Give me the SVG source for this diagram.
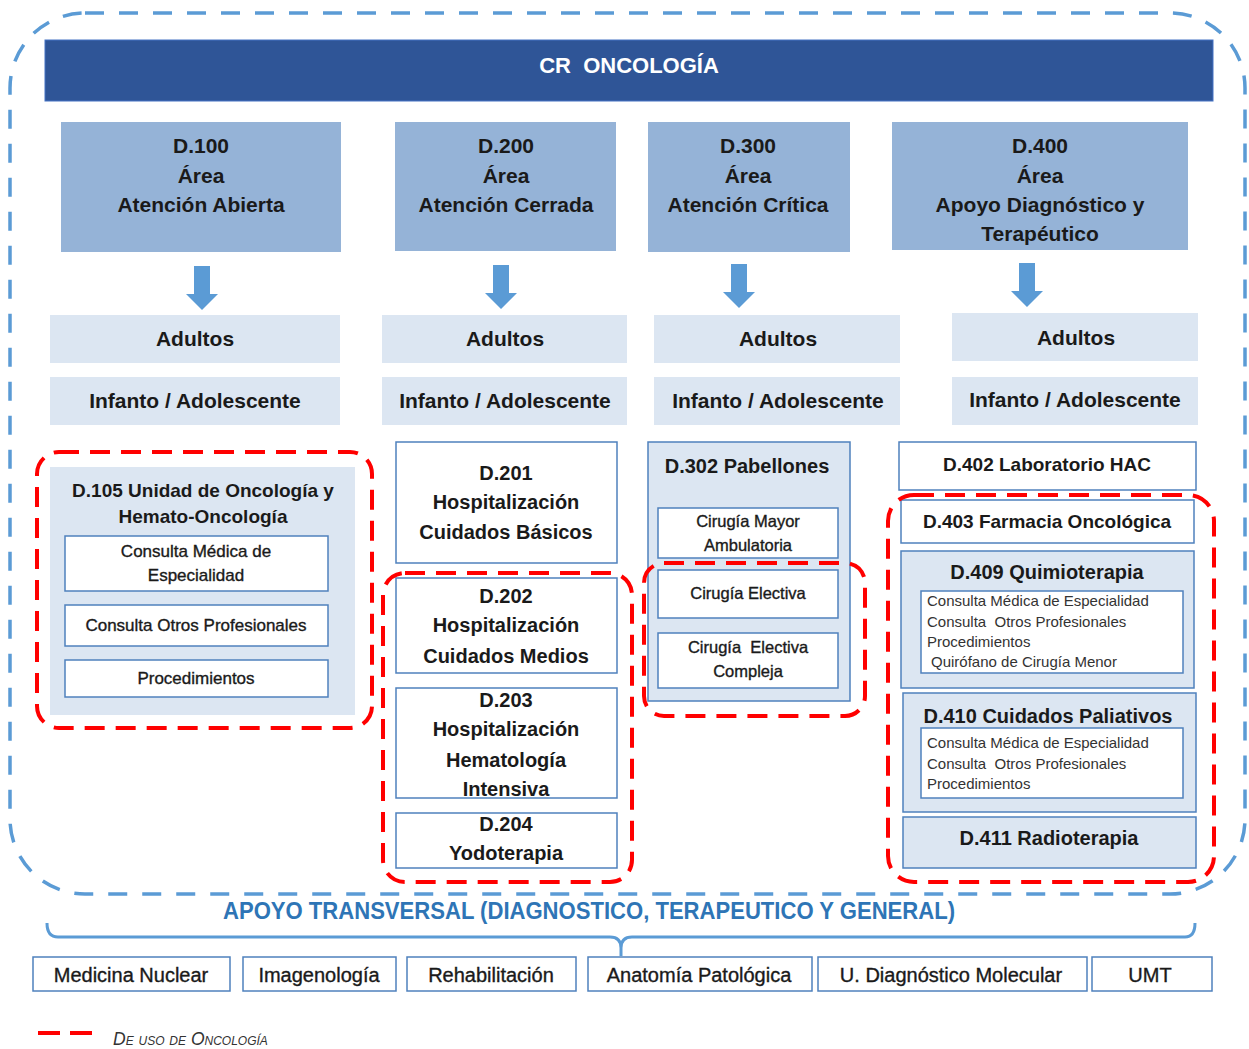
<svg xmlns="http://www.w3.org/2000/svg" width="1249" height="1049" viewBox="0 0 1249 1049">
<defs>
<style>
.t{font-family:"Liberation Sans",Arial,sans-serif;fill:#1a1a1a;text-anchor:middle}
.b{font-weight:bold}
.m{stroke:#1a1a1a;stroke-width:0.35}
.hdr{fill:#95B3D7}
.lt{fill:#DCE6F2}
.wb{fill:#ffffff;stroke:#4F81BD;stroke-width:1.5}
.lb{fill:#DCE6F2;stroke:#4F81BD;stroke-width:1.5}
.red{fill:none;stroke:#FF0000;stroke-width:4;stroke-dasharray:20 11}
.arr{fill:#5B9BD5}
.s15{font-size:15px;text-anchor:start;fill:#333}
</style>
</defs>
<rect width="1249" height="1049" fill="#ffffff"/>

<g id="outer-frame">
<rect x="10" y="13" width="1235" height="881" rx="75" ry="75" fill="none" stroke="#5B9BD5" stroke-width="3.5" stroke-dasharray="19 15"/>
</g>

<g id="cr-oncologia">
<rect x="45" y="40" width="1168" height="61" fill="#2F5597" stroke="#4472C4" stroke-width="1"/>
<text class="t b" x="629" y="73" font-size="22" style="fill:#ffffff" xml:space="preserve">CR  ONCOLOGÍA</text>
</g>

<g id="d100">
<rect class="hdr" x="61" y="122" width="280" height="130"/>
<text class="t b" font-size="21"><tspan x="201" y="153">D.100</tspan><tspan x="201" y="183">Área</tspan><tspan x="201" y="212">Atención Abierta</tspan></text>
</g>
<g id="d200">
<rect class="hdr" x="395" y="122" width="221" height="129"/>
<text class="t b" font-size="21"><tspan x="506" y="153">D.200</tspan><tspan x="506" y="183">Área</tspan><tspan x="506" y="212">Atención Cerrada</tspan></text>
</g>
<g id="d300">
<rect class="hdr" x="648" y="122" width="202" height="130"/>
<text class="t b" font-size="21"><tspan x="748" y="153">D.300</tspan><tspan x="748" y="183">Área</tspan><tspan x="748" y="212">Atención Crítica</tspan></text>
</g>
<g id="d400">
<rect class="hdr" x="892" y="122" width="296" height="128"/>
<text class="t b" font-size="21"><tspan x="1040" y="153">D.400</tspan><tspan x="1040" y="183">Área</tspan><tspan x="1040" y="212">Apoyo Diagnóstico y</tspan><tspan x="1040" y="241">Terapéutico</tspan></text>
</g>

<g id="connectors">
<path class="arr" d="M194 266 H210 V294 H218 L202 310 L186 294 H194 Z"/>
<path class="arr" d="M493 265 H509 V293 H517 L501 309 L485 293 H493 Z"/>
<path class="arr" d="M731 264 H747 V292 H755 L739 308 L723 292 H731 Z"/>
<path class="arr" d="M1019 263 H1035 V291 H1043 L1027 307 L1011 291 H1019 Z"/>
<path d="M47 923 Q47 937 58 937 H610 Q621 937 621 948 V956 M621 948 Q621 937 632 937 H1185 Q1195 937 1195 923" fill="none" stroke="#5B9BD5" stroke-width="3"/>
</g>

<g id="adultos-1"><rect class="lt" x="50" y="315" width="290" height="48"/><text class="t b" x="195" y="346" font-size="21">Adultos</text></g>
<g id="infanto-1"><rect class="lt" x="50" y="377" width="290" height="48"/><text class="t b" x="195" y="408" font-size="21">Infanto / Adolescente</text></g>
<g id="adultos-2"><rect class="lt" x="382" y="315" width="245" height="48"/><text class="t b" x="505" y="346" font-size="21">Adultos</text></g>
<g id="infanto-2"><rect class="lt" x="382" y="377" width="245" height="48"/><text class="t b" x="505" y="408" font-size="21">Infanto / Adolescente</text></g>
<g id="adultos-3"><rect class="lt" x="654" y="315" width="246" height="48"/><text class="t b" x="778" y="346" font-size="21">Adultos</text></g>
<g id="infanto-3"><rect class="lt" x="654" y="377" width="246" height="48"/><text class="t b" x="778" y="408" font-size="21">Infanto / Adolescente</text></g>
<g id="adultos-4"><rect class="lt" x="952" y="313" width="246" height="48"/><text class="t b" x="1076" y="345" font-size="21">Adultos</text></g>
<g id="infanto-4"><rect class="lt" x="952" y="377" width="246" height="48"/><text class="t b" x="1075" y="407" font-size="21">Infanto / Adolescente</text></g>

<g id="d105">
<rect class="lt" x="50" y="467" width="305" height="248"/>
<text class="t b" font-size="19"><tspan x="203" y="497">D.105 Unidad de Oncología y</tspan><tspan x="203" y="523">Hemato-Oncología</tspan></text>
<rect class="wb" x="65" y="536" width="263" height="55"/>
<text class="t m" font-size="17"><tspan x="196" y="557">Consulta Médica de</tspan><tspan x="196" y="581">Especialidad</tspan></text>
<rect class="wb" x="65" y="605" width="263" height="41"/>
<text class="t m" x="196" y="631" font-size="17">Consulta Otros Profesionales</text>
<rect class="wb" x="65" y="660" width="263" height="37"/>
<text class="t m" x="196" y="684" font-size="17">Procedimientos</text>
<rect class="red" x="37" y="452" width="335" height="276" rx="22" ry="22"/>
</g>

<g id="d201">
<rect class="wb" x="396" y="442" width="221" height="121"/>
<text class="t b" font-size="20"><tspan x="506" y="480">D.201</tspan><tspan x="506" y="509">Hospitalización</tspan><tspan x="506" y="539">Cuidados Básicos</tspan></text>
</g>
<g id="d202">
<rect class="wb" x="396" y="578" width="221" height="95"/>
<text class="t b" font-size="20"><tspan x="506" y="603">D.202</tspan><tspan x="506" y="632">Hospitalización</tspan><tspan x="506" y="663">Cuidados Medios</tspan></text>
</g>
<g id="d203">
<rect class="wb" x="396" y="688" width="221" height="110"/>
<text class="t b" font-size="20"><tspan x="506" y="707">D.203</tspan><tspan x="506" y="736">Hospitalización</tspan><tspan x="506" y="767">Hematología</tspan><tspan x="506" y="796">Intensiva</tspan></text>
</g>
<g id="d204">
<rect class="wb" x="396" y="813" width="221" height="55"/>
<text class="t b" font-size="20"><tspan x="506" y="831">D.204</tspan><tspan x="506" y="860">Yodoterapia</tspan></text>
</g>
<g id="group-d202-d204">
<rect class="red" x="383" y="573" width="249" height="309" rx="22" ry="22"/>
</g>

<g id="d302">
<rect class="lb" x="648" y="442" width="202" height="259"/>
<text class="t b" x="747" y="473" font-size="20">D.302 Pabellones</text>
<rect class="wb" x="658" y="508" width="180" height="50"/>
<text class="t m" font-size="16.5"><tspan x="748" y="527">Cirugía Mayor</tspan><tspan x="748" y="551">Ambulatoria</tspan></text>
<rect class="wb" x="658" y="570" width="180" height="48"/>
<text class="t m" x="748" y="599" font-size="16.5">Cirugía Electiva</text>
<rect class="wb" x="658" y="633" width="180" height="55"/>
<text class="t m" font-size="16.5" xml:space="preserve"><tspan x="748" y="653">Cirugía  Electiva</tspan><tspan x="748" y="677">Compleja</tspan></text>
<rect class="red" x="644" y="563" width="221" height="153" rx="20" ry="20"/>
</g>

<g id="d402">
<rect class="wb" x="899" y="442" width="297" height="48"/>
<text class="t b" x="1047" y="471" font-size="19">D.402 Laboratorio HAC</text>
</g>
<g id="d403">
<rect class="wb" x="901" y="500" width="293" height="43"/>
<text class="t b" x="1047" y="528" font-size="19">D.403 Farmacia Oncológica</text>
</g>
<g id="d409">
<rect class="lb" x="901" y="551" width="293" height="137"/>
<text class="t b" x="1047" y="579" font-size="20">D.409 Quimioterapia</text>
<rect class="wb" x="921" y="591" width="262" height="82"/>
<text class="t s15" xml:space="preserve"><tspan x="927" y="606">Consulta Médica de Especialidad</tspan><tspan x="927" y="627">Consulta  Otros Profesionales</tspan><tspan x="927" y="647">Procedimientos</tspan><tspan x="931" y="667">Quirófano de Cirugía Menor</tspan></text>
</g>
<g id="d410">
<rect class="lb" x="903" y="693" width="293" height="119"/>
<text class="t b" x="1048" y="723" font-size="20">D.410 Cuidados Paliativos</text>
<rect class="wb" x="921" y="728" width="262" height="70"/>
<text class="t s15" xml:space="preserve"><tspan x="927" y="748">Consulta Médica de Especialidad</tspan><tspan x="927" y="769">Consulta  Otros Profesionales</tspan><tspan x="927" y="789">Procedimientos</tspan></text>
</g>
<g id="d411">
<rect class="lb" x="903" y="817" width="293" height="51"/>
<text class="t b" x="1049" y="845" font-size="20">D.411 Radioterapia</text>
</g>
<g id="group-d403-d411">
<rect class="red" x="888" y="495" width="326" height="387" rx="26" ry="26"/>
</g>

<g id="apoyo-transversal">
<text class="t b" x="589" y="919" font-size="24" style="fill:#2E75B6" textLength="732" lengthAdjust="spacingAndGlyphs">APOYO TRANSVERSAL (DIAGNOSTICO, TERAPEUTICO Y GENERAL)</text>
</g>

<g id="medicina-nuclear"><rect class="wb" x="33" y="957" width="197" height="34"/><text class="t m" x="131" y="982" font-size="20">Medicina Nuclear</text></g>
<g id="imagenologia"><rect class="wb" x="243" y="957" width="153" height="34"/><text class="t m" x="319" y="982" font-size="20">Imagenología</text></g>
<g id="rehabilitacion"><rect class="wb" x="407" y="957" width="169" height="34"/><text class="t m" x="491" y="982" font-size="20">Rehabilitación</text></g>
<g id="anatomia"><rect class="wb" x="588" y="957" width="224" height="34"/><text class="t m" x="699" y="982" font-size="20">Anatomía Patológica</text></g>
<g id="udm"><rect class="wb" x="818" y="957" width="269" height="34"/><text class="t m" x="951" y="982" font-size="20">U. Diagnóstico Molecular</text></g>
<g id="umt"><rect class="wb" x="1092" y="957" width="120" height="34"/><text class="t m" x="1150" y="982" font-size="20">UMT</text></g>

<g id="legend">
<line x1="38" y1="1033" x2="92" y2="1033" stroke="#FF0000" stroke-width="4" stroke-dasharray="22 10"/>
<text class="t" x="113" y="1045" font-size="17.5" font-style="italic" font-variant="small-caps" style="text-anchor:start;fill:#333">De uso de Oncología</text>
</g>
</svg>
